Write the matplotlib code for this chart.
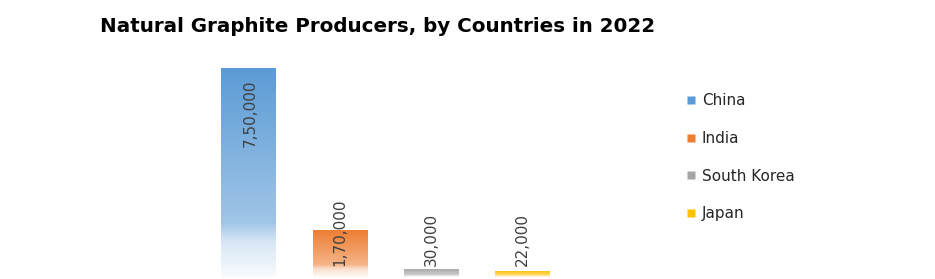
import numpy as np
import matplotlib
matplotlib.use("Agg")
import matplotlib.pyplot as plt
from matplotlib.colors import to_rgb
from matplotlib.lines import Line2D

countries = ["China", "India", "South Korea", "Japan"]
production = [750000, 170000, 30000, 22000]
labels = ["7,50,000", "1,70,000", "30,000", "22,000"]
colors = ["#5B9BD5", "#ED7D31", "#A5A5A5", "#FFC000"]

W, H = 935, 279
fig = plt.figure(figsize=(W / 100, H / 100), dpi=100)
ax = fig.add_axes([203 / W, (H - 277) / H, (568 - 203) / W, (277 - 54) / H])
ax.set_xlim(-0.5, len(countries) - 0.5)
ax.set_ylim(0, 800000)
ax.axis("off")

x = np.arange(len(countries))
bars = ax.bar(x, production, width=0.6, color="none", edgecolor="none")

# white blend profile from top (0) to bottom (1)
tpos = np.linspace(0, 1, 200)
wmix = np.interp(tpos, [0, 0.74, 0.83, 1.0], [0.0, 0.42, 0.75, 0.96])
for b, c in zip(bars, colors):
    rgb = np.array(to_rgb(c))
    img = (1 - wmix)[:, None] * rgb[None, :] + wmix[:, None] * np.ones(3)[None, :]
    img = img[:, None, :]
    x0, y0, w, h = b.get_x(), b.get_y(), b.get_width(), b.get_height()
    im = ax.imshow(img, extent=[x0, x0 + w, y0, y0 + h], aspect="auto",
                   origin="upper", zorder=2, interpolation="bilinear")
    im.set_clip_path(b)

for i, (v, lab) in enumerate(zip(production, labels)):
    if i == 0:
        ax.annotate(lab, (x[i], v), xytext=(1.5, -8), textcoords="offset points",
                    rotation=90, ha="center", va="top", fontsize=11,
                    color="#404040", zorder=3)
    else:
        ax.annotate(lab, (x[i], 0), xytext=(0, 8), textcoords="offset points",
                    rotation=90, ha="center", va="bottom", fontsize=11,
                    color="#404040", zorder=3)

fig.text(100 / W, 1 - 26 / H, "Natural Graphite Producers, by Countries in 2022",
         fontsize=14.3, fontweight="bold", ha="left", va="center", color="#000000")

handles = [Line2D([], [], marker="s", linestyle="none", markersize=5.5,
                  markerfacecolor=c, markeredgecolor="none") for c in colors]
leg = fig.legend(handles, countries, loc="upper left",
                 bbox_to_anchor=(679 / W, 1 - 87 / H), frameon=False,
                 fontsize=11, labelspacing=1.49, handletextpad=0.3,
                 handlelength=0.8, borderaxespad=0)
for t in leg.get_texts():
    t.set_color("#262626")

fig.savefig("out.png", dpi=100)
